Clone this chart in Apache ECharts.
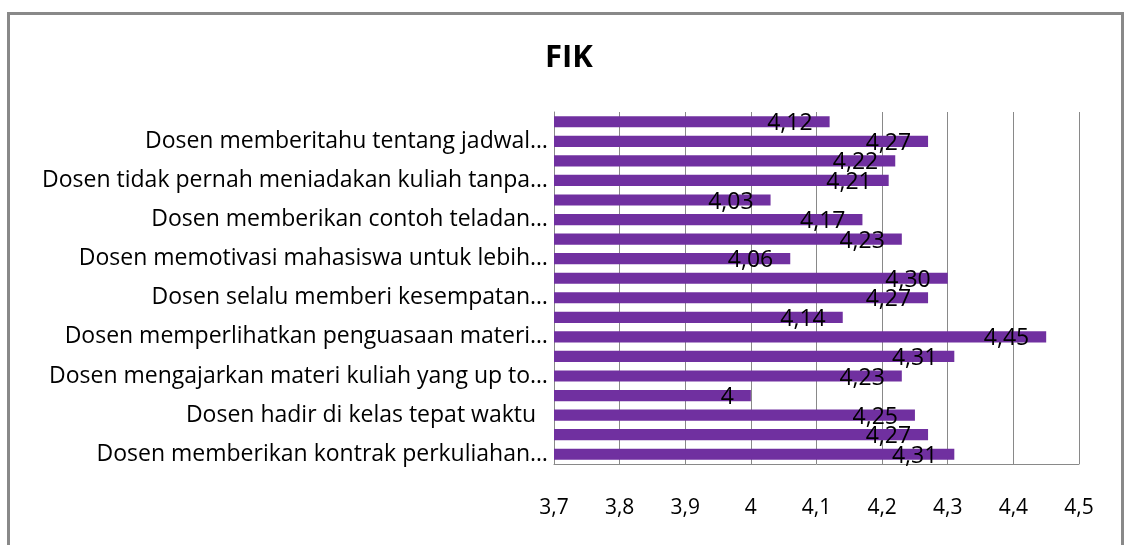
<!DOCTYPE html>
<html>
<head>
    <meta charset="UTF-8">
    <script type="text/javascript" src="https://cdn.jsdelivr.net/npm/echarts@6/dist/echarts.min.js"></script>
    <style>
        body { margin: 0; background: #fff; }
        #frame { position: absolute; left: 7px; top: 12px; width: 1117px; height: 600px;
                 box-sizing: border-box; border: 3px solid #898989; }
        #myDiv { position: absolute; left: 0; top: 0; width: 1125px; height: 545px; }
    </style>
    <script type="text/javascript">
        // items top to bottom; only every other one carries a label in the picture
        var itemLabels = [
            '', 'Dosen memberitahu tentang jadwal…',
            '', 'Dosen tidak pernah meniadakan kuliah tanpa…',
            '', 'Dosen memberikan contoh teladan…',
            '', 'Dosen memotivasi mahasiswa untuk lebih…',
            '', 'Dosen selalu memberi kesempatan…',
            '', 'Dosen memperlihatkan penguasaan materi…',
            '', 'Dosen mengajarkan materi kuliah yang up to…',
            '', 'Dosen hadir di kelas tepat waktu  ',
            '', 'Dosen memberikan kontrak perkuliahan…'
        ];
        var scores = [4.12, 4.27, 4.22, 4.21, 4.03, 4.17, 4.23, 4.06, 4.30,
                      4.27, 4.14, 4.45, 4.31, 4.23, 4, 4.25, 4.27, 4.31];
        var axisMin = 3.7;
        var axisMax = 4.5;
        var axisStep = 0.1;

        function komma(v){
            // Indonesian decimal comma, like the original sheet
            if (Number.isInteger(v)) return String(v);
            return v.toFixed(2).replace('.', ',');
        }

        window.onload = function (){
            var chart = echarts.init(document.getElementById("myDiv"));
            var font = 'Open Sans';
            var option = {
                animation: false,
                title: {
                    text: 'FIK',
                    left: 540,
                    top: 38,
                    textStyle: { fontFamily: font, fontSize: 31, fontWeight: 'bold', color: '#000' }
                },
                grid: { left: 554, right: 46, top: 112, bottom: 81 },
                xAxis: {
                    type: 'value',
                    min: axisMin,
                    max: axisMax,
                    interval: axisStep,
                    axisLine: { show: true, lineStyle: { color: '#898989', width: 1 } },
                    axisTick: { show: false },
                    splitLine: { show: true, lineStyle: { color: '#898989', width: 1 } },
                    axisLabel: {
                        margin: 34,
                        fontFamily: font,
                        fontSize: 21,
                        color: '#000',
                        formatter: function (v){
                            return String(Math.round(v * 10) / 10).replace('.', ',');
                        }
                    }
                },
                yAxis: {
                    type: 'category',
                    inverse: true,
                    data: itemLabels,
                    axisLine: { show: true, lineStyle: { color: '#898989', width: 1 } },
                    axisTick: { show: false },
                    axisLabel: {
                        interval: 0,
                        margin: 6,
                        fontFamily: font,
                        fontSize: 23,
                        color: '#000'
                    }
                },
                series: [
                    {
                        type: 'bar',
                        data: scores,
                        barCategoryGap: '43%',
                        itemStyle: { color: '#7030a0' },
                        label: {
                            show: true,
                            position: 'insideRight',
                            distance: 17,
                            offset: [0, 2],
                            fontFamily: font,
                            fontSize: 23,
                            color: '#000',
                            formatter: function (p){ return komma(p.value); }
                        }
                    }
                ]
            };
            chart.setOption(option);
        };
    </script>
</head>
<body>
    <div id="frame"></div>
    <div id="myDiv"></div>
</body>
</html>
